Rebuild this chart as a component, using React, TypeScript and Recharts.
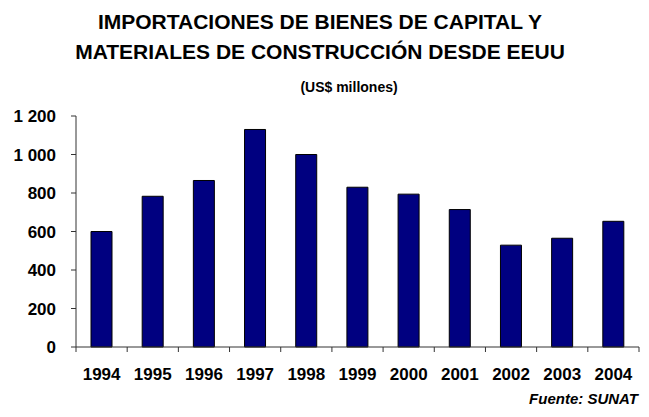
import React from 'react';
import { BarChart, Bar, XAxis, YAxis } from 'recharts';

const years = ['1994', '1995', '1996', '1997', '1998', '1999', '2000', '2001', '2002', '2003', '2004'];
const imports = [600, 783, 865, 1130, 1000, 830, 794, 714, 529, 565, 653];
const yTicks = [0, 200, 400, 600, 800, 1000, 1200];

const titleLines = [
  'IMPORTACIONES DE BIENES DE CAPITAL Y',
  'MATERIALES DE CONSTRUCCIÓN DESDE EEUU',
];
const subtitle = '(US$ millones)';
const source = 'Fuente: SUNAT';

const data = years.map((year, i) => ({ year, value: imports[i] }));

const W = 649;
const H = 417;
const PLOT_LEFT = 76;
const PLOT_RIGHT = 639;
const AXIS_Y = 347;
const BAND = (PLOT_RIGHT - PLOT_LEFT) / years.length;
const FONT = '"Liberation Sans", Arial, sans-serif';

function YearTick({ x, payload, index }: any) {
  const left = x - BAND / 2;
  return (
    <g>
      <line x1={left} x2={left} y1={AXIS_Y} y2={AXIS_Y + 5} stroke="#333" />
      {index === years.length - 1 && (
        <line x1={x + BAND / 2} x2={x + BAND / 2} y1={AXIS_Y} y2={AXIS_Y + 5} stroke="#333" />
      )}
      <text x={x} y={AXIS_Y + 33} textAnchor="middle" fontFamily={FONT} fontWeight="bold" fontSize={17} fill="#000">
        {payload.value}
      </text>
    </g>
  );
}

export default function App() {
  return (
    <div style={{ position: 'absolute', left: 0, top: 0, width: W, height: H, background: '#fff', fontFamily: FONT }}>
      <div style={{ position: 'absolute', left: 0, width: 640, top: 7, textAlign: 'center', fontWeight: 'bold', fontSize: 21, lineHeight: '30px' }}>
        {titleLines.map((l) => (
          <div key={l}>{l}</div>
        ))}
      </div>
      <div style={{ position: 'absolute', left: 0, width: 698, top: 79, textAlign: 'center', fontWeight: 'bold', fontSize: 14 }}>
        {subtitle}
      </div>
      <div style={{ position: 'absolute', right: 11, top: 390, fontWeight: 'bold', fontStyle: 'italic', fontSize: 15 }}>
        {source}
      </div>
      <BarChart
        width={W}
        height={H}
        data={data}
        margin={{ top: 116, right: W - PLOT_RIGHT, left: PLOT_LEFT - 60, bottom: 40 }}
        barSize={21}
      >
        <YAxis
          width={60}
          domain={[0, 1200]}
          ticks={yTicks}
          interval={0}
          tickSize={5}
          tickMargin={15}
          stroke="#333"
          tickFormatter={(v: number) => v.toLocaleString('en-US').replace(',', ' ')}
          tick={{ fill: '#000', fontSize: 17, fontWeight: 'bold', fontFamily: FONT }}
        />
        <XAxis
          dataKey="year"
          height={30}
          interval={0}
          tickLine={false}
          stroke="#333"
          tick={<YearTick />}
        />
        <Bar dataKey="value" fill="#000080" stroke="#000" strokeWidth={1} isAnimationActive={false} />
      </BarChart>
    </div>
  );
}
